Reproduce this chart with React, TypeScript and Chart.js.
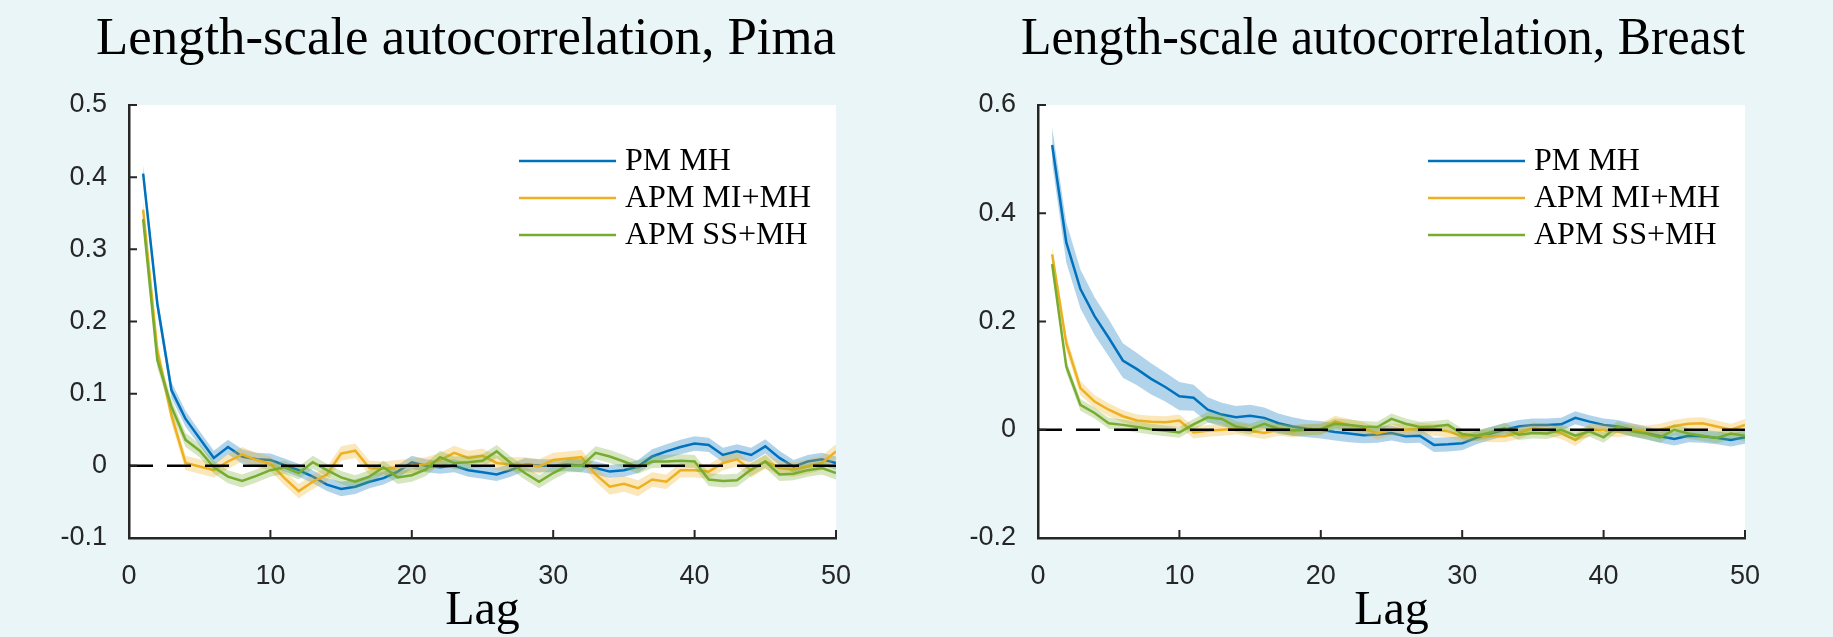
import React, { useEffect, useRef } from "react";
import { Chart, registerables } from "chart.js";

Chart.register(...registerables);

// ---------------- data ----------------
const lags = [1, 2, 3, 4, 5, 6, 7, 8, 9, 10, 11, 12, 13, 14, 15, 16, 17, 18, 19, 20, 21, 22, 23, 24, 25, 26, 27, 28, 29, 30, 31, 32, 33, 34, 35, 36, 37, 38, 39, 40, 41, 42, 43, 44, 45, 46, 47, 48, 49, 50];

const seriesNames = ["PM MH", "APM MI+MH", "APM SS+MH"];

const xTicks = [0, 10, 20, 30, 40, 50];
const pimaYTicks = [-0.1, 0, 0.1, 0.2, 0.3, 0.4, 0.5];
const breastYTicks = [-0.2, 0, 0.2, 0.4, 0.6];

const refLineX = [0, 50];
const refLineY = [0, 0];

// Pima
const pimaPM = [0.405, 0.225, 0.105, 0.065, 0.038, 0.011, 0.026, 0.013, 0.009, 0.008, 0.001, -0.006, -0.015, -0.026, -0.032, -0.029, -0.022, -0.017, -0.008, 0.005, 0.0, -0.002, 0.0, -0.006, -0.009, -0.012, -0.006, 0.002, 0.0, 0.0, 0.002, 0.0, -0.003, -0.008, -0.006, -0.001, 0.013, 0.02, 0.026, 0.031, 0.029, 0.015, 0.02, 0.015, 0.027, 0.011, -0.001, 0.006, 0.009, 0.004];
const pimaPMErr = [0.012, 0.012, 0.011, 0.011, 0.01, 0.01, 0.01, 0.01, 0.009, 0.009, 0.009, 0.009, 0.009, 0.009, 0.01, 0.01, 0.009, 0.009, 0.009, 0.009, 0.009, 0.009, 0.009, 0.009, 0.009, 0.009, 0.009, 0.009, 0.009, 0.009, 0.009, 0.009, 0.009, 0.009, 0.009, 0.009, 0.01, 0.01, 0.01, 0.01, 0.01, 0.01, 0.01, 0.01, 0.01, 0.01, 0.009, 0.009, 0.009, 0.009];
const pimaMI = [0.355, 0.16, 0.07, 0.004, -0.001, -0.006, 0.006, 0.016, 0.008, 0.003, -0.017, -0.035, -0.022, -0.012, 0.017, 0.021, -0.003, -0.004, -0.002, 0.0, 0.002, 0.008, 0.018, 0.011, 0.014, 0.004, 0.002, 0.002, -0.001, 0.008, 0.01, 0.012, -0.012, -0.029, -0.025, -0.031, -0.019, -0.022, -0.006, -0.006, -0.008, 0.004, 0.009, -0.006, 0.006, -0.003, -0.005, -0.001, 0.004, 0.02];
const pimaMIErr = [0.014, 0.012, 0.011, 0.01, 0.01, 0.01, 0.01, 0.01, 0.01, 0.01, 0.01, 0.01, 0.01, 0.01, 0.01, 0.01, 0.01, 0.01, 0.01, 0.01, 0.01, 0.01, 0.01, 0.01, 0.01, 0.01, 0.01, 0.01, 0.01, 0.01, 0.01, 0.01, 0.01, 0.011, 0.011, 0.011, 0.01, 0.01, 0.01, 0.01, 0.01, 0.01, 0.01, 0.01, 0.01, 0.01, 0.01, 0.01, 0.01, 0.01];
const pimaSS = [0.342, 0.147, 0.082, 0.036, 0.021, -0.002, -0.015, -0.021, -0.014, -0.006, -0.002, -0.01, 0.005, -0.006, -0.016, -0.022, -0.015, -0.002, -0.016, -0.013, -0.005, 0.012, 0.004, 0.005, 0.007, 0.02, 0.004, -0.01, -0.022, -0.01, 0.0, 0.0, 0.018, 0.013, 0.006, -0.002, 0.006, 0.006, 0.007, 0.006, -0.019, -0.021, -0.02, -0.005, 0.006, -0.012, -0.011, -0.006, -0.003, -0.01];
const pimaSSErr = [0.012, 0.011, 0.01, 0.01, 0.009, 0.009, 0.009, 0.009, 0.009, 0.009, 0.009, 0.009, 0.009, 0.009, 0.009, 0.009, 0.009, 0.009, 0.009, 0.009, 0.009, 0.009, 0.009, 0.009, 0.009, 0.009, 0.009, 0.009, 0.009, 0.009, 0.009, 0.009, 0.009, 0.009, 0.009, 0.009, 0.009, 0.009, 0.009, 0.009, 0.009, 0.009, 0.009, 0.009, 0.009, 0.009, 0.009, 0.009, 0.009, 0.009];

// Breast
const breastPM = [0.526, 0.346, 0.26, 0.21, 0.17, 0.128, 0.112, 0.094, 0.079, 0.062, 0.059, 0.037, 0.028, 0.023, 0.026, 0.022, 0.012, 0.006, 0.002, 0.0, -0.004, -0.007, -0.01, -0.009, -0.006, -0.012, -0.011, -0.028, -0.027, -0.025, -0.015, -0.007, 0.0, 0.006, 0.009, 0.009, 0.01, 0.022, 0.015, 0.009, 0.006, 0.0, -0.006, -0.012, -0.017, -0.011, -0.012, -0.015, -0.019, -0.014];
const breastPMErr = [0.033, 0.037, 0.036, 0.035, 0.034, 0.032, 0.03, 0.029, 0.027, 0.026, 0.024, 0.023, 0.022, 0.021, 0.02, 0.019, 0.018, 0.017, 0.016, 0.016, 0.016, 0.016, 0.015, 0.015, 0.014, 0.013, 0.013, 0.013, 0.013, 0.013, 0.012, 0.012, 0.012, 0.012, 0.012, 0.012, 0.012, 0.012, 0.012, 0.012, 0.012, 0.012, 0.012, 0.012, 0.012, 0.012, 0.012, 0.012, 0.012, 0.012];
const breastMI = [0.324, 0.16, 0.077, 0.052, 0.037, 0.025, 0.017, 0.015, 0.014, 0.017, -0.005, -0.002, 0.0, 0.002, -0.002, -0.006, 0.0, -0.003, 0.0, 0.001, 0.015, 0.009, 0.003, -0.007, 0.0, 0.0, 0.002, 0.0, -0.003, -0.012, -0.01, -0.012, -0.012, -0.006, 0.003, 0.0, -0.006, -0.019, 0.0, 0.0, -0.003, 0.0, -0.003, 0.0, 0.007, 0.011, 0.012, 0.006, 0.0, 0.009];
const breastMIErr = [0.015, 0.014, 0.013, 0.012, 0.012, 0.011, 0.011, 0.011, 0.011, 0.011, 0.011, 0.011, 0.011, 0.011, 0.011, 0.011, 0.011, 0.011, 0.011, 0.011, 0.011, 0.011, 0.011, 0.011, 0.011, 0.011, 0.011, 0.011, 0.011, 0.011, 0.011, 0.011, 0.011, 0.011, 0.011, 0.011, 0.011, 0.011, 0.011, 0.011, 0.011, 0.011, 0.011, 0.011, 0.011, 0.011, 0.011, 0.011, 0.011, 0.011];
const breastSS = [0.306, 0.117, 0.046, 0.031, 0.012, 0.009, 0.005, 0.001, -0.002, -0.005, 0.01, 0.023, 0.02, 0.006, 0.001, 0.011, 0.002, -0.001, 0.0, 0.001, 0.011, 0.009, 0.006, 0.005, 0.02, 0.011, 0.005, 0.006, 0.009, -0.008, -0.011, -0.005, 0.003, -0.009, -0.006, -0.007, 0.0, -0.011, -0.003, -0.014, 0.006, -0.003, -0.007, -0.014, 0.0, -0.007, -0.011, -0.015, -0.007, -0.011];
const breastSSErr = [0.012, 0.011, 0.011, 0.01, 0.01, 0.01, 0.01, 0.01, 0.01, 0.01, 0.01, 0.01, 0.01, 0.01, 0.01, 0.01, 0.01, 0.01, 0.01, 0.01, 0.01, 0.01, 0.01, 0.01, 0.01, 0.01, 0.01, 0.01, 0.01, 0.01, 0.01, 0.01, 0.01, 0.01, 0.01, 0.01, 0.01, 0.01, 0.01, 0.01, 0.01, 0.01, 0.01, 0.01, 0.01, 0.01, 0.01, 0.01, 0.01, 0.01];

// ---------------- style ----------------
const BG = "#e9f5f7";
const AXIS = "#262626";
const lineColors = ["#0072BD", "#EDB120", "#77AC30"];
const bandColors = ["rgba(0,114,189,0.3)", "rgba(237,177,32,0.3)", "rgba(119,172,48,0.3)"];
const SERIF = "'Liberation Serif', 'Times New Roman', serif";
const SANS = "'Liberation Sans', Arial, Helvetica, sans-serif";
const TICK_SIZE = 27;
const Y_LABEL_GAP = 22;

const pts = (xs: number[], ys: number[]) => xs.map((x, i) => ({ x, y: ys[i] }));
const fmt = (v: number) => String(v);

function widestText(labels: string[], font: string) {
  const c = document.createElement("canvas").getContext("2d") as CanvasRenderingContext2D;
  c.font = font;
  return Math.max(...labels.map((l) => c.measureText(l).width));
}

function buildDatasets(means: number[][], errs: number[][]) {
  const ds: any[] = [
    {
      label: "zero",
      data: pts(refLineX, refLineY),
      borderColor: "#000",
      borderWidth: 2.5,
      borderDash: [24, 14],
      pointRadius: 0,
      fill: false,
      order: 0,
    },
  ];
  // draw order: series 0 at bottom, series 2 on top
  for (let s = 2; s >= 0; s--) {
    const m = means[s];
    const e = errs[s];
    const base = (2 - s) * 2 + 1;
    ds.push({
      label: seriesNames[s],
      legendIndex: s,
      data: pts(lags, m),
      borderColor: lineColors[s],
      borderWidth: 2.5,
      pointRadius: 0,
      tension: 0,
      fill: false,
      order: base,
    });
    ds.push({
      label: seriesNames[s] + " upper",
      data: pts(lags, m.map((v, i) => v + e[i])),
      borderWidth: 0,
      borderColor: "rgba(0,0,0,0)",
      backgroundColor: bandColors[s],
      pointRadius: 0,
      tension: 0,
      fill: "+1",
      order: base + 1,
    });
    ds.push({
      label: seriesNames[s] + " lower",
      data: pts(lags, m.map((v, i) => v - e[i])),
      borderWidth: 0,
      borderColor: "rgba(0,0,0,0)",
      pointRadius: 0,
      tension: 0,
      fill: false,
      order: base + 1,
    });
  }
  return ds;
}

const backgroundPlugin = {
  id: "bgPlugin",
  beforeDraw(chart: any) {
    const { ctx, chartArea, width, height } = chart;
    ctx.save();
    ctx.fillStyle = BG;
    ctx.fillRect(0, 0, width, height);
    ctx.fillStyle = "#ffffff";
    ctx.fillRect(chartArea.left, chartArea.top, chartArea.right - chartArea.left, chartArea.bottom - chartArea.top);
    ctx.restore();
  },
};

const inwardTicksPlugin = {
  id: "inwardTicks",
  afterDraw(chart: any) {
    const { ctx, chartArea } = chart;
    const xs = chart.scales.x;
    const ys = chart.scales.y;
    const len = 8;
    ctx.save();
    ctx.strokeStyle = AXIS;
    ctx.lineWidth = 2;
    ctx.beginPath();
    xs.ticks.forEach((t: any) => {
      const px = xs.getPixelForValue(t.value);
      ctx.moveTo(px, chartArea.bottom);
      ctx.lineTo(px, chartArea.bottom - len);
    });
    ys.ticks.forEach((t: any) => {
      const py = ys.getPixelForValue(t.value);
      ctx.moveTo(chartArea.left, py);
      ctx.lineTo(chartArea.left + len, py);
    });
    ctx.stroke();
    ctx.restore();
  },
};

const insideLegendPlugin = {
  id: "insideLegend",
  afterDraw(chart: any) {
    const { ctx, chartArea } = chart;
    const items = chart.data.datasets
      .filter((d: any) => d.legendIndex !== undefined)
      .sort((a: any, b: any) => a.legendIndex - b.legendIndex);
    ctx.save();
    ctx.font = `32px ${SERIF}`;
    ctx.textBaseline = "middle";
    ctx.textAlign = "left";
    items.forEach((d: any, i: number) => {
      const y = chartArea.top + 56 + i * 37;
      ctx.strokeStyle = d.borderColor;
      ctx.lineWidth = 2.5;
      ctx.beginPath();
      ctx.moveTo(chartArea.right - 317, y);
      ctx.lineTo(chartArea.right - 220, y);
      ctx.stroke();
      ctx.fillStyle = "#000";
      ctx.fillText(d.label, chartArea.right - 211, y + 1);
    });
    ctx.restore();
  },
};

interface PanelCfg {
  title: string;
  means: number[][];
  errs: number[][];
  yMin: number;
  yMax: number;
  yTicks: number[];
  width: number;
  padL: number;
  padR: number;
  yAxisW: number;
}

function Panel({ cfg }: { cfg: PanelCfg }) {
  const ref = useRef<HTMLCanvasElement>(null);
  useEffect(() => {
    const widest = widestText(cfg.yTicks.map(fmt), `${TICK_SIZE}px ${SANS}`);
    const chart = new Chart(ref.current as HTMLCanvasElement, {
      type: "line",
      data: { datasets: buildDatasets(cfg.means, cfg.errs) },
      plugins: [backgroundPlugin, inwardTicksPlugin, insideLegendPlugin],
      options: {
        animation: false,
        responsive: false,
        devicePixelRatio: 1,
        layout: { padding: { left: cfg.padL, right: cfg.padR, top: 0, bottom: 0 } },
        plugins: {
          legend: { display: false },
          tooltip: { enabled: false },
          title: {
            display: true,
            text: cfg.title,
            color: "#000",
            font: { family: SERIF, size: 53, weight: "normal", lineHeight: 1 },
            padding: { top: 14, bottom: 38 },
          },
        },
        scales: {
          x: {
            type: "linear",
            min: 0,
            max: 50,
            afterBuildTicks: (scale: any) => {
              scale.ticks = xTicks.map((v) => ({ value: v }));
            },
            afterFit: (scale: any) => {
              scale.height = 99;
            },
            grid: { display: false, drawTicks: false },
            border: { display: true, color: AXIS, width: 2.5 },
            ticks: {
              autoSkip: false,
              maxRotation: 0,
              color: AXIS,
              padding: 25,
              font: { family: SANS, size: TICK_SIZE, lineHeight: 1 },
              callback: (v: any) => fmt(v),
            },
            title: {
              display: true,
              text: "Lag",
              color: "#000",
              font: { family: SERIF, size: 48, lineHeight: 1 },
              padding: { top: 0, bottom: 2 },
            },
          },
          y: {
            type: "linear",
            min: cfg.yMin,
            max: cfg.yMax,
            afterBuildTicks: (scale: any) => {
              scale.ticks = cfg.yTicks.map((v) => ({ value: v }));
            },
            afterFit: (scale: any) => {
              scale.width = cfg.yAxisW;
            },
            grid: { display: false, drawTicks: false },
            border: { display: true, color: AXIS, width: 2.5 },
            ticks: {
              autoSkip: false,
              mirror: true,
              crossAlign: "far",
              color: AXIS,
              padding: -(Y_LABEL_GAP + widest),
              font: { family: SANS, size: TICK_SIZE, lineHeight: 1 },
              callback: (v: any) => fmt(v),
            },
          },
        },
      } as any,
    });
    return () => chart.destroy();
  }, []);
  return (
    <canvas
      ref={ref}
      width={cfg.width}
      height={637}
      style={{ display: "block", width: cfg.width, height: 637 }}
    />
  );
}

const pimaCfg: PanelCfg = {
  title: "Length-scale autocorrelation, Pima",
  means: [pimaPM, pimaMI, pimaSS],
  errs: [pimaPMErr, pimaMIErr, pimaSSErr],
  yMin: -0.1,
  yMax: 0.5,
  yTicks: pimaYTicks,
  width: 917,
  padL: 96,
  padR: 81,
  yAxisW: 33,
};

const breastCfg: PanelCfg = {
  title: "Length-scale autocorrelation, Breast",
  means: [breastPM, breastMI, breastSS],
  errs: [breastPMErr, breastMIErr, breastSSErr],
  yMin: -0.2,
  yMax: 0.6,
  yTicks: breastYTicks,
  width: 916,
  padL: 104,
  padR: 88,
  yAxisW: 17,
};

export default function App() {
  useEffect(() => {
    document.body.style.margin = "0";
    document.body.style.background = BG;
  }, []);
  return (
    <div style={{ display: "flex", width: 1833, height: 637, background: BG, overflow: "hidden" }}>
      <style>{`html,body{margin:0;padding:0;background:${BG};}`}</style>
      <Panel cfg={pimaCfg} />
      <Panel cfg={breastCfg} />
    </div>
  );
}
